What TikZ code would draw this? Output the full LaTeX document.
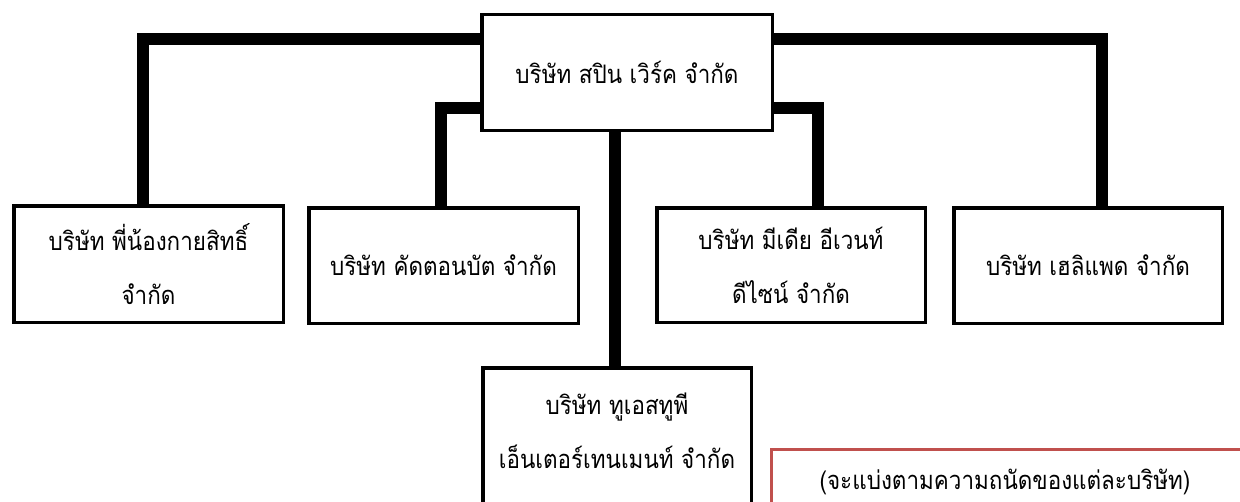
\documentclass[tikz,border=0pt]{standalone}
\usepackage{fontspec}
\newfontfamily\thaifont[Script=Thai,FakeStretch=0.88]{Loma}
\tikzset{
  box/.style={draw=black, line width=3.5pt, fill=white, inner sep=0pt, align=center, font=\thaifont\fontsize{25.5}{54}\selectfont},
  lbl/.style={inner sep=0pt, align=center, font=\thaifont\fontsize{25.5}{54}\selectfont},
  conn/.style={draw=black, line width=11.5pt, line join=miter},
  notebox/.style={draw={rgb,255:red,192;green,80;blue,77}, line width=3pt, fill=white, inner sep=0pt}
}
\begin{document}
\begin{tikzpicture}[x=1pt,y=-1pt]
\useasboundingbox (0,0) rectangle (1240,501);
\clip (0,0) rectangle (1240,501);
\fill[white] (0,0) rectangle (1240,501);
\node[box, minimum width=290.5pt, minimum height=116pt] (top) at (627,72.5) {บริษัท สปิน เวิร์ค จำกัด};
\node[box, minimum width=269.5pt, minimum height=116.5pt] (b1) at (148.5,264) {บริษัท พี่น้องกายสิทธิ์\\จำกัด};
\node[box, minimum width=269.5pt, minimum height=115.5pt] (b2) at (443.5,265.5) {บริษัท คัดตอนบัต จำกัด};
\node[box, minimum width=268.5pt, minimum height=114.5pt] (b3) at (791,265) {บริษัท มีเดีย อีเวนท์\\ดีไซน์ จำกัด};
\node[box, minimum width=268.5pt, minimum height=115.5pt] (b4) at (1088,265.5) {บริษัท เฮลิแพด จำกัด};
\node[box, minimum width=268.5pt, minimum height=170pt, anchor=north] (b5) at (617,366) {};
\node[lbl] (b5t) at (617,431) {บริษัท ทูเอสทูพี\\เอ็นเตอร์เทนเมนท์ จำกัด};
\node[notebox, minimum width=520pt, minimum height=120pt, anchor=north west] (note) at (769.5,447.5) {};
\node[lbl] (notet) at (1005,482) {(จะแบ่งตามความถนัดของแต่ละบริษัท)};
\draw[conn] ([yshift=-26pt]top.north west) -| ([xshift=-5.5pt]b1.north);
\draw[conn] ([yshift=-95pt]top.north west) -| ([xshift=-2.5pt]b2.north);
\draw[conn] ([yshift=-26pt]top.north east) -| ([xshift=14pt]b4.north);
\draw[conn] ([yshift=-95pt]top.north east) -| ([xshift=27pt]b3.north);
\draw[conn] ([xshift=-2pt]b5.north) -- ([xshift=-2pt]b5.north |- top.south);
\end{tikzpicture}
\end{document}
